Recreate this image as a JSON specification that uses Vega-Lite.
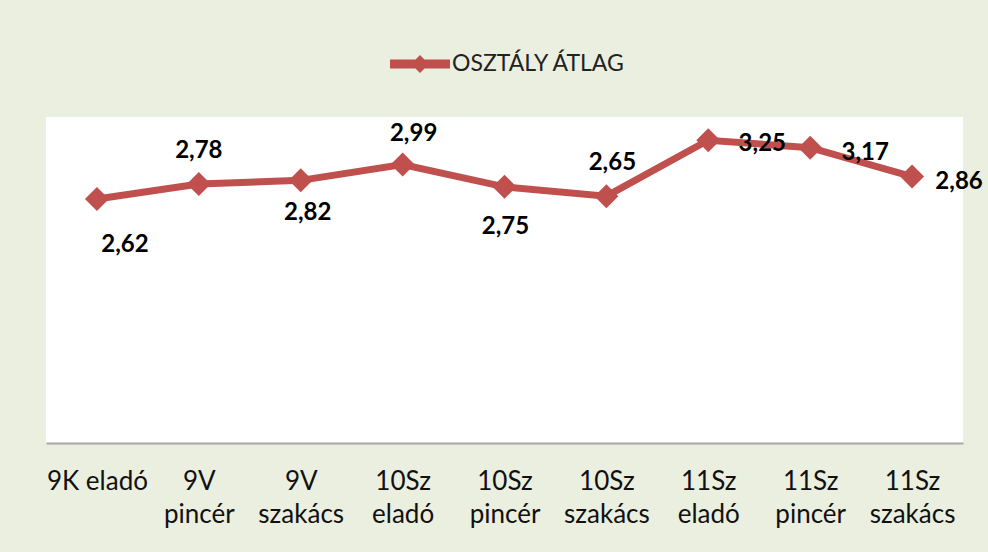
{
  "$schema": "https://vega.github.io/schema/vega-lite/v6.json",
  "width": 917,
  "height": 326,
  "autosize": {"type": "none"},
  "padding": {"left": 46, "top": 117, "right": 25, "bottom": 109},
  "background": "#EBEFE0",
  "config": {
    "view": {"fill": "white", "stroke": null},
    "locale": {"number": {"decimal": ",", "thousands": " ", "grouping": [3], "currency": ["", " Ft"]}},
    "text": {"font": "Lato", "fontWeight": "bold", "fontSize": 24, "color": "#000000", "align": "center", "baseline": "middle"}
  },
  "data": {
    "values": [
      {"osztaly": "9K eladó", "atlag": 2.62},
      {"osztaly": "9V pincér", "atlag": 2.78},
      {"osztaly": "9V szakács", "atlag": 2.82},
      {"osztaly": "10Sz eladó", "atlag": 2.99},
      {"osztaly": "10Sz pincér", "atlag": 2.75},
      {"osztaly": "10Sz szakács", "atlag": 2.65},
      {"osztaly": "11Sz eladó", "atlag": 3.25},
      {"osztaly": "11Sz pincér", "atlag": 3.17},
      {"osztaly": "11Sz szakács", "atlag": 2.86}
    ]
  },
  "encoding": {
    "x": {
      "field": "osztaly", "type": "nominal", "sort": null,
      "scale": {"type": "point", "padding": 0.5},
      "axis": {
        "title": null, "labelAngle": 0, "ticks": false,
        "labelFont": "Lato", "labelFontSize": 26, "labelColor": "#111111",
        "labelLineHeight": 33, "labelPadding": 25, "labelLimit": 0,
        "labelOverlap": false, "labelBound": false,
        "domainColor": "#A6A6A6", "domainWidth": 2,
        "labelExpr": "datum.value == '9K eladó' ? datum.value : split(datum.value, ' ')"
      }
    },
    "y": {"field": "atlag", "type": "quantitative", "scale": {"domain": [0, 3.5]}, "axis": null}
  },
  "layer": [
    {
      "mark": {"type": "line", "strokeWidth": 7},
      "encoding": {
        "color": {
          "datum": "OSZTÁLY ÁTLAG",
          "scale": {"range": ["#C0504D"]},
          "legend": {
            "orient": "none", "legendX": 344, "legendY": -83, "title": null, "padding": 0,
            "symbolType": "M-1,-0.15 L1,-0.15 L1,0.15 L-1,0.15 Z M0,-0.3 L0.3,0 L0,0.3 L-0.3,0 Z",
            "symbolSize": 3600, "symbolFillColor": "#C0504D", "symbolStrokeWidth": 0,
            "labelFont": "Lato", "labelFontSize": 23, "labelColor": "#222222", "labelOffset": 2, "labelLimit": 0,
            "encode": {"symbols": {"update": {"fill": {"value": "#C0504D"}, "stroke": {"value": "#C0504D"}, "strokeWidth": {"value": 0}}}}
          }
        }
      }
    },
    {"mark": {"type": "point", "shape": "diamond", "filled": true, "size": 576, "color": "#C0504D", "opacity": 1}},
    {"transform": [{"filter": "datum.osztaly == '9K eladó'"}], "mark": {"type": "text", "dx": 28, "dy": 46}, "encoding": {"text": {"field": "atlag", "type": "quantitative", "format": ".2f"}}},
    {"transform": [{"filter": "datum.osztaly == '9V pincér'"}], "mark": {"type": "text", "dx": 0, "dy": -33}, "encoding": {"text": {"field": "atlag", "type": "quantitative", "format": ".2f"}}},
    {"transform": [{"filter": "datum.osztaly == '9V szakács'"}], "mark": {"type": "text", "dx": 7, "dy": 33}, "encoding": {"text": {"field": "atlag", "type": "quantitative", "format": ".2f"}}},
    {"transform": [{"filter": "datum.osztaly == '10Sz eladó'"}], "mark": {"type": "text", "dx": 11, "dy": -31}, "encoding": {"text": {"field": "atlag", "type": "quantitative", "format": ".2f"}}},
    {"transform": [{"filter": "datum.osztaly == '10Sz pincér'"}], "mark": {"type": "text", "dx": 1, "dy": 40}, "encoding": {"text": {"field": "atlag", "type": "quantitative", "format": ".2f"}}},
    {"transform": [{"filter": "datum.osztaly == '10Sz szakács'"}], "mark": {"type": "text", "dx": 6, "dy": -33}, "encoding": {"text": {"field": "atlag", "type": "quantitative", "format": ".2f"}}},
    {"transform": [{"filter": "datum.osztaly == '11Sz eladó'"}], "mark": {"type": "text", "dx": 54, "dy": 4}, "encoding": {"text": {"field": "atlag", "type": "quantitative", "format": ".2f"}}},
    {"transform": [{"filter": "datum.osztaly == '11Sz pincér'"}], "mark": {"type": "text", "dx": 55, "dy": 5}, "encoding": {"text": {"field": "atlag", "type": "quantitative", "format": ".2f"}}},
    {"transform": [{"filter": "datum.osztaly == '11Sz szakács'"}], "mark": {"type": "text", "dx": 47, "dy": 5}, "encoding": {"text": {"field": "atlag", "type": "quantitative", "format": ".2f"}}}
  ]
}
